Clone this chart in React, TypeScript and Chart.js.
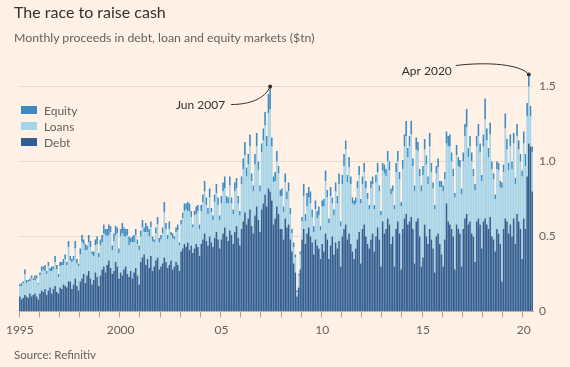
import { useEffect, useRef } from 'react';
import { Chart, registerables } from 'chart.js';
Chart.register(...registerables);

const START_YEAR = 1995;
const MONTH_COUNT = 306; // Jan 1995 - Jun 2020
const MONTHS = ['Jan', 'Feb', 'Mar', 'Apr', 'May', 'Jun', 'Jul', 'Aug', 'Sep', 'Oct', 'Nov', 'Dec'];

// $tn per month, one row per year (1995 ... 2020)
const debt = [
  0.10, 0.08, 0.09, 0.11, 0.10, 0.09, 0.12, 0.10, 0.11, 0.12, 0.10, 0.08,
  0.12, 0.14, 0.13, 0.15, 0.11, 0.14, 0.16, 0.12, 0.15, 0.17, 0.13, 0.12,
  0.16, 0.15, 0.18, 0.17, 0.16, 0.20, 0.20, 0.15, 0.18, 0.22, 0.17, 0.14,
  0.20, 0.22, 0.25, 0.19, 0.24, 0.27, 0.22, 0.18, 0.21, 0.26, 0.23, 0.17,
  0.24, 0.28, 0.30, 0.26, 0.31, 0.34, 0.29, 0.25, 0.27, 0.33, 0.30, 0.22,
  0.26, 0.24, 0.28, 0.30, 0.25, 0.23, 0.27, 0.22, 0.26, 0.29, 0.24, 0.18,
  0.33, 0.36, 0.38, 0.31, 0.35, 0.29, 0.37, 0.27, 0.30, 0.34, 0.36, 0.28,
  0.30, 0.32, 0.36, 0.33, 0.29, 0.31, 0.34, 0.28, 0.30, 0.33, 0.31, 0.27,
  0.40, 0.42, 0.45, 0.43, 0.46, 0.41, 0.44, 0.39, 0.42, 0.45, 0.43, 0.37,
  0.45, 0.48, 0.52, 0.47, 0.44, 0.50, 0.46, 0.43, 0.49, 0.53, 0.48, 0.42,
  0.48, 0.52, 0.56, 0.50, 0.47, 0.54, 0.51, 0.45, 0.53, 0.57, 0.49, 0.44,
  0.55, 0.60, 0.66, 0.58, 0.62, 0.68, 0.57, 0.52, 0.64, 0.70, 0.61, 0.53,
  0.68, 0.72, 0.78, 0.70, 0.82, 0.80, 0.74, 0.58, 0.62, 0.70, 0.65, 0.55,
  0.55, 0.48, 0.62, 0.56, 0.58, 0.48, 0.40, 0.32, 0.26, 0.10, 0.16, 0.28,
  0.48, 0.55, 0.45, 0.52, 0.56, 0.50, 0.46, 0.38, 0.48, 0.44, 0.42, 0.35,
  0.45, 0.40, 0.52, 0.48, 0.35, 0.44, 0.50, 0.38, 0.46, 0.42, 0.47, 0.30,
  0.50, 0.55, 0.58, 0.48, 0.52, 0.45, 0.40, 0.35, 0.42, 0.48, 0.53, 0.32,
  0.55, 0.58, 0.50, 0.45, 0.42, 0.48, 0.52, 0.40, 0.50, 0.56, 0.48, 0.30,
  0.60, 0.52, 0.55, 0.62, 0.58, 0.45, 0.50, 0.30, 0.55, 0.60, 0.52, 0.28,
  0.55, 0.62, 0.65, 0.58, 0.60, 0.63, 0.55, 0.32, 0.60, 0.62, 0.50, 0.30,
  0.36, 0.58, 0.50, 0.45, 0.55, 0.48, 0.42, 0.26, 0.50, 0.52, 0.45, 0.38,
  0.30, 0.48, 0.72, 0.60, 0.58, 0.55, 0.50, 0.28, 0.58, 0.55, 0.52, 0.30,
  0.55, 0.62, 0.65, 0.58, 0.60, 0.52, 0.50, 0.33, 0.60, 0.62, 0.58, 0.42,
  0.60, 0.62, 0.58, 0.55, 0.63, 0.50, 0.48, 0.40, 0.55, 0.52, 0.45, 0.20,
  0.55, 0.62, 0.60, 0.52, 0.58, 0.50, 0.62, 0.45, 0.65, 0.60, 0.55, 0.35,
  0.62, 0.55, 0.90, 1.12, 1.10, 0.80,
];

const loans = [
  0.07, 0.09, 0.10, 0.14, 0.09, 0.11, 0.08, 0.12, 0.10, 0.09, 0.12, 0.10,
  0.12, 0.13, 0.15, 0.12, 0.14, 0.16, 0.11, 0.15, 0.13, 0.16, 0.15, 0.11,
  0.14, 0.16, 0.13, 0.18, 0.15, 0.23, 0.14, 0.18, 0.16, 0.20, 0.15, 0.16,
  0.18, 0.24, 0.20, 0.22, 0.17, 0.19, 0.21, 0.20, 0.16, 0.18, 0.22, 0.19,
  0.20, 0.18, 0.22, 0.25, 0.19, 0.17, 0.24, 0.16, 0.20, 0.18, 0.22, 0.17,
  0.24, 0.28, 0.22, 0.20, 0.26, 0.21, 0.19, 0.24, 0.20, 0.22, 0.21, 0.23,
  0.17, 0.20, 0.15, 0.22, 0.18, 0.21, 0.19, 0.20, 0.16, 0.18, 0.22, 0.18,
  0.18, 0.20, 0.30, 0.22, 0.19, 0.24, 0.17, 0.21, 0.18, 0.20, 0.23, 0.17,
  0.18, 0.20, 0.22, 0.25, 0.21, 0.26, 0.19, 0.17, 0.22, 0.20, 0.24, 0.18,
  0.22, 0.25, 0.28, 0.24, 0.21, 0.26, 0.20, 0.18, 0.24, 0.26, 0.23, 0.19,
  0.24, 0.28, 0.26, 0.22, 0.25, 0.30, 0.21, 0.20, 0.27, 0.25, 0.23, 0.20,
  0.30, 0.35, 0.38, 0.32, 0.36, 0.42, 0.30, 0.28, 0.34, 0.40, 0.33, 0.27,
  0.38, 0.42, 0.46, 0.40, 0.50, 0.55, 0.36, 0.28, 0.25, 0.30, 0.27, 0.22,
  0.22, 0.18, 0.24, 0.19, 0.22, 0.17, 0.12, 0.11, 0.10, 0.03, 0.08, 0.10,
  0.12, 0.22, 0.15, 0.18, 0.20, 0.22, 0.17, 0.15, 0.20, 0.18, 0.22, 0.19,
  0.25, 0.30, 0.35, 0.28, 0.24, 0.33, 0.22, 0.26, 0.34, 0.30, 0.38, 0.27,
  0.35, 0.42, 0.50, 0.38, 0.44, 0.40, 0.32, 0.36, 0.30, 0.34, 0.38, 0.40,
  0.30, 0.35, 0.32, 0.30, 0.26, 0.34, 0.33, 0.28, 0.36, 0.37, 0.32, 0.34,
  0.34, 0.40, 0.35, 0.38, 0.36, 0.33, 0.30, 0.38, 0.38, 0.40, 0.36, 0.42,
  0.40, 0.48, 0.52, 0.45, 0.50, 0.55, 0.42, 0.48, 0.48, 0.45, 0.40, 0.50,
  0.55, 0.50, 0.48, 0.40, 0.55, 0.45, 0.40, 0.42, 0.42, 0.44, 0.38, 0.45,
  0.50, 0.40, 0.40, 0.50, 0.52, 0.45, 0.40, 0.48, 0.46, 0.42, 0.44, 0.48,
  0.45, 0.55, 0.58, 0.45, 0.50, 0.48, 0.40, 0.48, 0.50, 0.55, 0.48, 0.45,
  0.50, 0.66, 0.56, 0.48, 0.55, 0.45, 0.40, 0.35, 0.40, 0.42, 0.38, 0.62,
  0.38, 0.60, 0.48, 0.42, 0.52, 0.45, 0.50, 0.40, 0.52, 0.48, 0.45, 0.55,
  0.50, 0.42, 0.40, 0.38, 0.20, 0.26,
];

const equity = [
  0.01, 0.02, 0.01, 0.03, 0.02, 0.01, 0.02, 0.02, 0.01, 0.03, 0.02, 0.01,
  0.02, 0.03, 0.02, 0.04, 0.02, 0.03, 0.02, 0.03, 0.02, 0.04, 0.03, 0.02,
  0.03, 0.02, 0.04, 0.03, 0.02, 0.04, 0.03, 0.02, 0.03, 0.05, 0.03, 0.02,
  0.04, 0.05, 0.03, 0.04, 0.03, 0.05, 0.04, 0.02, 0.03, 0.04, 0.05, 0.03,
  0.04, 0.05, 0.06, 0.04, 0.05, 0.07, 0.04, 0.03, 0.05, 0.06, 0.04, 0.03,
  0.05, 0.07, 0.06, 0.05, 0.04, 0.06, 0.03, 0.04, 0.05, 0.04, 0.03, 0.03,
  0.04, 0.05, 0.03, 0.06, 0.04, 0.05, 0.04, 0.03, 0.02, 0.04, 0.05, 0.03,
  0.03, 0.04, 0.07, 0.04, 0.03, 0.05, 0.02, 0.03, 0.02, 0.03, 0.04, 0.02,
  0.03, 0.04, 0.05, 0.04, 0.06, 0.05, 0.04, 0.02, 0.03, 0.05, 0.04, 0.03,
  0.04, 0.05, 0.07, 0.05, 0.04, 0.06, 0.03, 0.03, 0.05, 0.06, 0.05, 0.03,
  0.05, 0.06, 0.08, 0.05, 0.04, 0.06, 0.04, 0.03, 0.06, 0.07, 0.05, 0.03,
  0.05, 0.07, 0.09, 0.06, 0.07, 0.08, 0.05, 0.04, 0.07, 0.09, 0.06, 0.04,
  0.06, 0.08, 0.09, 0.07, 0.13, 0.15, 0.06, 0.04, 0.06, 0.07, 0.05, 0.04,
  0.05, 0.04, 0.06, 0.05, 0.06, 0.04, 0.03, 0.03, 0.02, 0.01, 0.01, 0.02,
  0.03, 0.08, 0.05, 0.09, 0.07, 0.08, 0.05, 0.04, 0.06, 0.05, 0.06, 0.03,
  0.04, 0.05, 0.07, 0.05, 0.03, 0.06, 0.04, 0.04, 0.06, 0.05, 0.07, 0.03,
  0.06, 0.08, 0.06, 0.05, 0.07, 0.05, 0.04, 0.03, 0.04, 0.05, 0.06, 0.03,
  0.05, 0.06, 0.05, 0.04, 0.03, 0.05, 0.05, 0.03, 0.05, 0.06, 0.04, 0.03,
  0.05, 0.06, 0.05, 0.07, 0.06, 0.04, 0.04, 0.03, 0.06, 0.07, 0.05, 0.03,
  0.06, 0.08, 0.10, 0.06, 0.07, 0.09, 0.05, 0.04, 0.08, 0.06, 0.05, 0.04,
  0.06, 0.07, 0.06, 0.05, 0.09, 0.06, 0.04, 0.03, 0.05, 0.06, 0.04, 0.04,
  0.04, 0.05, 0.08, 0.07, 0.08, 0.06, 0.05, 0.03, 0.07, 0.06, 0.05, 0.04,
  0.06, 0.08, 0.12, 0.06, 0.07, 0.06, 0.05, 0.04, 0.07, 0.08, 0.06, 0.04,
  0.08, 0.14, 0.08, 0.06, 0.08, 0.05, 0.04, 0.03, 0.05, 0.05, 0.04, 0.04,
  0.05, 0.10, 0.07, 0.05, 0.08, 0.05, 0.07, 0.04, 0.08, 0.06, 0.05, 0.04,
  0.08, 0.08, 0.09, 0.08, 0.07, 0.04,
];

const tickYears = [1995, 2000, 2005, 2010, 2015, 2020];
const tickTexts = ['1995', '2000', '05', '10', '15', '20'];
const yTickValues = [0, 0.5, 1.0, 1.5];
const yTickTexts = ['0', '0.5', '1.0', '1.5'];

const annotationLabels = ['Jun 2007', 'Apr 2020'];

const BG = '#fff1e5';
const COL_DEBT = '#325f91';
const COL_LOANS = '#a5d4e8';
const COL_EQUITY = '#3c8cc3';
const TEXT_GREY = '#66605c';
const TEXT_DARK = '#33302e';
const FONT = 'Lato, "Open Sans", sans-serif';

const labels: string[] = [];
for (let i = 0; i < MONTH_COUNT; i++) {
  labels.push(MONTHS[i % 12] + ' ' + (START_YEAR + Math.floor(i / 12)));
}

const annotationPlugin = {
  id: 'annots',
  afterDraw(chart: any) {
    const ctx = chart.ctx;
    const xs = chart.scales.x;
    const ys = chart.scales.y;
    ctx.save();
    ctx.font = '12px ' + FONT;
    ctx.fillStyle = TEXT_DARK;
    ctx.strokeStyle = TEXT_DARK;
    ctx.lineWidth = 1;
    annotationLabels.forEach((lab, k) => {
      const idx = labels.indexOf(lab);
      if (idx < 0) return;
      const total = debt[idx] + loans[idx] + equity[idx];
      const px = xs.getPixelForValue(idx);
      const py = ys.getPixelForValue(total);
      ctx.beginPath();
      if (k === 0) {
        ctx.moveTo(px - 39, py + 18);
        ctx.bezierCurveTo(px - 20, py + 18, px - 5, py + 12, px, py);
        ctx.stroke();
        ctx.textAlign = 'right';
        ctx.textBaseline = 'middle';
        ctx.fillText(lab, px - 45, py + 19);
      } else {
        ctx.moveTo(px - 73, py - 9);
        ctx.bezierCurveTo(px - 40, py - 13, px - 8, py - 10, px, py);
        ctx.stroke();
        ctx.textAlign = 'right';
        ctx.textBaseline = 'middle';
        ctx.fillText(lab, px - 77, py - 3);
      }
      ctx.beginPath();
      ctx.arc(px, py, 2, 0, Math.PI * 2);
      ctx.fill();
    });
    ctx.restore();
  },
};

export default function App() {
  const ref = useRef<HTMLCanvasElement | null>(null);
  useEffect(() => {
    document.body.style.margin = '0';
    document.body.style.background = BG;
    const chart = new Chart(ref.current as HTMLCanvasElement, {
      type: 'bar',
      data: {
        labels,
        datasets: [
          { label: 'Debt', data: debt, backgroundColor: COL_DEBT, barPercentage: 0.94, categoryPercentage: 1 },
          { label: 'Loans', data: loans, backgroundColor: COL_LOANS, barPercentage: 0.94, categoryPercentage: 1 },
          { label: 'Equity', data: equity, backgroundColor: COL_EQUITY, barPercentage: 0.94, categoryPercentage: 1 },
        ],
      },
      options: {
        animation: false,
        responsive: false,
        maintainAspectRatio: false,
        layout: { padding: { left: 19, right: 0, top: 71.5, bottom: 29.5 } },
        plugins: { legend: { display: false }, tooltip: { enabled: false }, title: { display: false } },
        scales: {
          x: {
            stacked: true,
            grid: {
              drawOnChartArea: false,
              drawTicks: true,
              tickLength: 6,
              tickColor: (c: any) => (c.index % 12 === 0 && c.index < MONTH_COUNT ? '#a8a09a' : 'rgba(0,0,0,0)'),
            },
            border: { display: true, color: '#bdb3ab' },
            ticks: {
              autoSkip: false,
              maxRotation: 0,
              minRotation: 0,
              padding: 5,
              color: TEXT_GREY,
              font: { size: 12, family: FONT },
              callback: (_v: any, i: number) => {
                if (i % 12 !== 0) return '';
                const k = tickYears.indexOf(START_YEAR + i / 12);
                return k >= 0 ? tickTexts[k] : '';
              },
            },
            afterFit: (s: any) => { s.height = 26; },
          },
          y: {
            stacked: true,
            position: 'right',
            min: 0,
            max: 1.6,
            grid: { color: '#e8dace', drawTicks: false, lineWidth: 1 },
            border: { display: false },
            ticks: {
              stepSize: 0.5,
              includeBounds: false,
              padding: 6,
              color: TEXT_GREY,
              font: { size: 12, family: FONT },
              callback: (v: any) => {
                const k = yTickValues.findIndex((t) => Math.abs(t - v) < 1e-6);
                return k >= 0 ? yTickTexts[k] : '';
              },
            },
            afterFit: (s: any) => { s.width = 37; },
          },
        },
      },
      plugins: [annotationPlugin],
    } as any);
    return () => chart.destroy();
  }, []);

  const legendItems = [
    { name: 'Equity', color: COL_EQUITY, top: 106 },
    { name: 'Loans', color: COL_LOANS, top: 122 },
    { name: 'Debt', color: COL_DEBT, top: 138 },
  ];

  return (
    <div style={{ position: 'absolute', left: 0, top: 0, width: 570, height: 367, background: BG, overflow: 'hidden', fontFamily: FONT }}>
      <canvas ref={ref} width={570} height={367} style={{ position: 'absolute', left: 0, top: 0, width: 570, height: 367 }} />
      <div style={{ position: 'absolute', left: 14, top: 2, fontSize: 16, color: TEXT_DARK, whiteSpace: 'nowrap' }}>The race to raise cash</div>
      <div style={{ position: 'absolute', left: 14, top: 30, fontSize: 12.3, color: TEXT_GREY, whiteSpace: 'nowrap' }}>Monthly proceeds in debt, loan and equity markets ($tn)</div>
      {legendItems.map((it) => (
        <div key={it.name} style={{ position: 'absolute', left: 21, top: it.top, height: 8, display: 'flex', alignItems: 'center', whiteSpace: 'nowrap' }}>
          <span style={{ display: 'inline-block', width: 16, height: 8, background: it.color }} />
          <span style={{ marginLeft: 7, fontSize: 12, color: TEXT_GREY }}>{it.name}</span>
        </div>
      ))}
      <div style={{ position: 'absolute', left: 14, top: 348, fontSize: 11.5, color: TEXT_GREY, whiteSpace: 'nowrap' }}>Source: Refinitiv</div>
    </div>
  );
}
